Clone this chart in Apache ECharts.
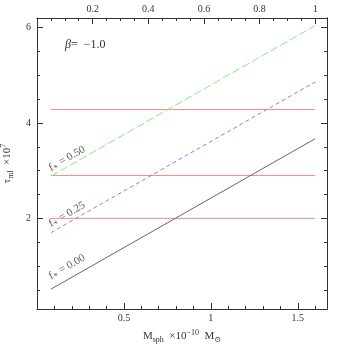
<!DOCTYPE html>
<html>
<head>
<meta charset="utf-8">
<script src="https://cdn.jsdelivr.net/npm/echarts@6/dist/echarts.min.js"></script>
<style>
  html, body { margin: 0; padding: 0; background: #fff; }
  #chart { width: 346px; height: 346px; }
</style>
</head>
<body>
<div id="chart"></div>
<script>
// line endpoints (M_sph, tau_ml x 1e7)
var xEnds = [0.08, 1.6];
var fStar0 = [0.515, 3.67];
var fStar25 = [1.70, 4.86];
var fStar50 = [2.885, 6.04];
var hLines = [2.0, 2.9, 4.28];

// labels sitting along the sloped lines
var fLabels = ['0.00', '0.25', '0.50'];
var fLabelX = 0.172;
var fLabelY = [0.98, 2.08, 3.25];

// ticks
var bottomMajor = [0.5, 1, 1.5];
var bottomMinor = [0.1, 0.2, 0.3, 0.4, 0.6, 0.7, 0.8, 0.9, 1.1, 1.2, 1.3, 1.4, 1.6];
var topMajor = [0.2, 0.4, 0.6, 0.8, 1];
var topMinor = [0.05, 0.1, 0.15, 0.25, 0.3, 0.35, 0.45, 0.5, 0.55, 0.65, 0.7, 0.75, 0.85, 0.9, 0.95];
var yMajor = [2, 4, 6];
var yMinor = [0.5, 1, 1.5, 2.5, 3, 3.5, 4.5, 5, 5.5];

var xMax = 1.668;
var FONT = '"Liberation Serif", "DejaVu Serif", serif';
var INK = '#333';

var chartDom = document.getElementById('chart');
var myChart = echarts.init(chartDom);
var option;

function xAx(pos, max, ticks, len, labels, extra) {
    var ax = {
        type: 'value',
        position: pos,
        min: 0,
        max: max,
        splitLine: { show: false },
        axisLine: { show: !!labels, onZero: false, lineStyle: { color: INK, width: 1 } },
        axisTick: { inside: true, length: len, customValues: ticks, lineStyle: { color: INK } },
        axisLabel: labels ? {
            customValues: ticks, color: INK, fontFamily: FONT, fontSize: 10, margin: 4
        } : { show: false }
    };
    return Object.assign(ax, extra || {});
}

function yAx(pos, ticks, len, labels, extra) {
    var ax = {
        type: 'value',
        position: pos,
        min: 0.1,
        max: 6.2,
        splitLine: { show: false },
        axisLine: { show: !!labels || pos === 'right', onZero: false, lineStyle: { color: INK, width: 1 } },
        axisTick: { inside: true, length: len, customValues: ticks, lineStyle: { color: INK } },
        axisLabel: labels ? {
            customValues: ticks, color: INK, fontFamily: FONT, fontSize: 10, margin: 6
        } : { show: false }
    };
    return Object.assign(ax, extra || {});
}

function lineSeries(ys, color, type) {
    return {
        type: 'line',
        xAxisIndex: 0,
        yAxisIndex: 0,
        data: [[xEnds[0], ys[0]], [xEnds[1], ys[1]]],
        showSymbol: false,
        symbol: 'none',
        silent: true,
        lineStyle: { color: color, width: 1, type: type }
    };
}

var series = [];
hLines.forEach(function (v) {
    series.push(lineSeries([v, v], '#f28a8a', 'solid'));
});
series.push(lineSeries(fStar0, '#666', 'solid'));
series.push(lineSeries(fStar25, '#8080ff', [4, 3]));
series.push(lineSeries(fStar50, '#80ee80', [8, 3]));

series.push({
    type: 'scatter',
    xAxisIndex: 0,
    yAxisIndex: 0,
    symbolSize: 0,
    silent: true,
    data: fLabels.map(function (t, i) { return { value: [fLabelX, fLabelY[i]], name: t }; }),
    label: {
        show: true,
        position: 'inside',
        rotate: 30,
        color: INK,
        fontFamily: FONT,
        fontSize: 11,
        formatter: function (p) { return 'f{sub|\u2217} = ' + p.name; },
        rich: {
            sub: { fontSize: 8, fontFamily: FONT, color: INK, verticalAlign: 'bottom', lineHeight: 9 }
        }
    }
});

option = {
    animation: false,
    backgroundColor: '#fff',
    grid: { left: 37, right: 19, top: 18, bottom: 37, containLabel: false, outerBoundsMode: 'none' },
    xAxis: [
        xAx('bottom', xMax, bottomMajor, 6, true, {
            name: 'M{sub|sph}  \u00d710{sup|\u221210}  M{sub|\u2299}',
            nameLocation: 'middle',
            nameGap: 20,
            nameTextStyle: {
                color: INK, fontFamily: FONT, fontSize: 11, lineHeight: 15,
                rich: {
                    sub: { fontSize: 8, fontFamily: FONT, color: INK, verticalAlign: 'bottom', lineHeight: 9 },
                    sup: { fontSize: 8, fontFamily: FONT, color: INK, verticalAlign: 'top', lineHeight: 9 }
                }
            }
        }),
        xAx('bottom', xMax, bottomMinor, 3, false),
        xAx('top', xMax / 1.6, topMajor, 6, true),
        xAx('top', xMax / 1.6, topMinor, 3, false)
    ],
    yAxis: [
        yAx('left', yMajor, 6, true, {
            name: '\u03c4{sub|ml}  \u00d710{sup|7}',
            nameLocation: 'middle',
            nameRotate: 90,
            nameGap: 19,
            nameTextStyle: {
                color: INK, fontFamily: FONT, fontSize: 11, lineHeight: 15,
                rich: {
                    sub: { fontSize: 8, fontFamily: FONT, color: INK, verticalAlign: 'bottom', lineHeight: 9 },
                    sup: { fontSize: 8, fontFamily: FONT, color: INK, verticalAlign: 'top', lineHeight: 9 }
                }
            }
        }),
        yAx('left', yMinor, 3, false),
        yAx('right', yMajor, 6, false),
        yAx('right', yMinor, 3, false)
    ],
    graphic: [{
        type: 'text',
        left: 65,
        top: 39,
        style: {
            text: '{it|\u03b2}=  \u22121.0',
            fill: INK,
            fontFamily: FONT,
            fontSize: 12,
            rich: { it: { fontStyle: 'italic', fontFamily: FONT, fontSize: 12, fill: INK } }
        }
    }],
    series: series
};

option && myChart.setOption(option);
window.addEventListener('resize', function () {
    myChart.resize();
});
</script>
</body>
</html>
